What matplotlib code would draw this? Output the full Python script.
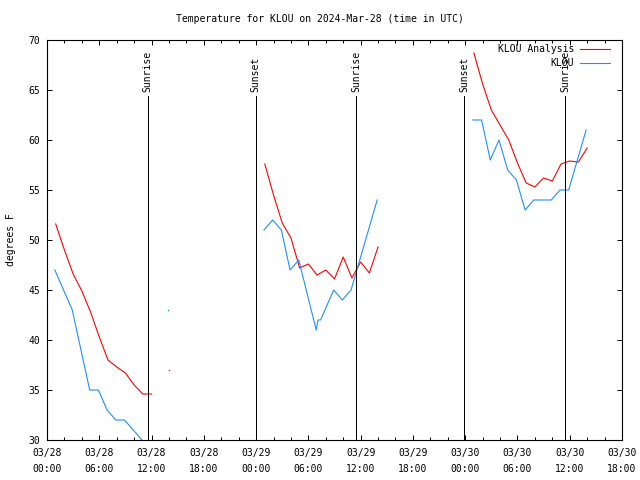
import numpy as np
import matplotlib
matplotlib.use("Agg")
import matplotlib.pyplot as plt
from datetime import datetime, timedelta

# hours since 2024-03-28 00:00 UTC, NaN breaks the line
BASE = datetime(2024, 3, 28)

analysis_hours = [1, 2, 3, 4, 5, 6, 7, 8, 9, 10, 11, 12, 13, 14, 15,
                  25, 26, 27, 28, 29, 30, 31, 32, 33, 34, 35, 36, 37, 38, 39,
                  49, 50, 51, 52, 53, 54, 55, 56, 57, 58, 59, 60, 61, 62]
analysis_temp = [51.6, 49.0, 46.6, 44.9, 42.8, 40.3, 38.0, 37.3, 36.7, 35.5, 34.6, 34.6, np.nan, 37.0, np.nan,
                 57.6, 54.5, 51.7, 50.2, 47.2, 47.6, 46.5, 47.0, 46.1, 48.3, 46.2, 47.8, 46.7, 49.3, np.nan,
                 68.7, 65.6, 63.0, 61.5, 60.0, 57.7, 55.7, 55.3, 56.2, 55.9, 57.6, 57.9, 57.8, 59.2]

obs_hours = [0.9, 1.9, 2.9, 3.9, 4.9, 5.9, 6.9, 7.9, 8.9, 9.9, 10.9, 11.9, 12.9, 13.9, 14.9,
             24.9, 25.9, 26.9, 27.9, 28.9, 29.9, 30.9, 31.1, 31.4, 32.9, 33.9, 34.9, 35.9, 36.9, 37.9, 38.9,
             48.88, 49.88, 50.88, 51.88, 52.88, 53.88, 54.88, 55.88, 56.88, 57.88, 58.88, 59.88, 60.88, 61.88]
obs_temp = [47, 45, 43, 39, 35, 35, 33, 32, 32, 31, 30, 29, np.nan, 43, np.nan,
            51, 52, 51, 47, 48, 44.5, 41, 42, 42, 45, 44, 45, 48, 51, 54, np.nan,
            62, 62, 58, 60, 57, 56, 53, 54, 54, 54, 55, 55, 58, 61]

sun_hours = [11.55, 23.95, 35.52, 47.85, 59.5]
sun_labels = ["Sunrise", "Sunset", "Sunrise", "Sunset", "Sunrise"]

RED = "#ff0000"
BLUE = "#1e90ff"
FONT = "DejaVu Sans Mono"
FS = 7
LW = 0.8

plt.rcParams['font.family'] = FONT
plt.rcParams['font.size'] = FS

def to_dt(hours):
    return [BASE + timedelta(hours=float(h)) for h in hours]

fig = plt.figure(figsize=(6.4, 4.8), dpi=100)
ax = fig.add_axes([47/640, 1 - 440/480, 575/640, 400/480])

a_t = to_dt(analysis_hours)
o_t = to_dt(obs_hours)
ax.plot(a_t, analysis_temp, color=RED, lw=LW, label="KLOU Analysis")
ax.plot(o_t, obs_temp, color=BLUE, lw=LW, label="KLOU")

# single points that have no neighbours
a_arr = np.array(analysis_temp, dtype=float)
o_arr = np.array(obs_temp, dtype=float)
for arr, times, col in [(a_arr, a_t, RED), (o_arr, o_t, BLUE)]:
    for i in range(len(arr)):
        prev_nan = i == 0 or np.isnan(arr[i-1])
        next_nan = i == len(arr)-1 or np.isnan(arr[i+1])
        if not np.isnan(arr[i]) and prev_nan and next_nan:
            ax.plot([times[i]], [arr[i]], ls="none", marker="s", ms=1.0, color=col, mew=0)

sun_t = to_dt(sun_hours)
ax.vlines(sun_t, 30, 64.4, color="black", lw=0.7, antialiased=False)
for t, lab in zip(sun_t, sun_labels):
    ax.text(t, 64.8, lab, rotation=90, ha="center", va="bottom", fontsize=FS)

ax.set_xlim(BASE, BASE + timedelta(hours=66))
ax.set_ylim(30, 70)

major = [BASE + timedelta(hours=h) for h in range(0, 67, 6)]
minor = [BASE + timedelta(hours=h) for h in range(0, 67, 2)]
ax.set_xticks(major, labels=[d.strftime("%m/%d\n%H:%M") for d in major])
ax.set_xticks(minor, minor=True)
ax.set_yticks(range(30, 71, 5))
for lbl in ax.get_xticklabels():
    lbl.set_linespacing(1.7)

ax.tick_params(which="both", direction="in", top=True, right=True, width=0.7)
ax.tick_params(which="major", length=3.4)
ax.tick_params(which="minor", length=2.4)
ax.tick_params(axis="x", which="major", pad=6)
ax.tick_params(axis="y", which="major", pad=5)
for sp in ax.spines.values():
    sp.set_linewidth(0.8)

ax.set_ylabel("degrees F", labelpad=9)
fig.text(0.5, 1 - 19/480, "Temperature for KLOU on 2024-Mar-28 (time in UTC)",
         ha="center", va="center", fontsize=FS)

ax.legend(loc="upper right", bbox_to_anchor=(1 - 12/575, 1 - 4/400), frameon=False,
          markerfirst=False, handlelength=3.1, handletextpad=0.6, labelspacing=0.45,
          borderpad=0, borderaxespad=0, fontsize=FS)

fig.savefig("out.png", dpi=100)
